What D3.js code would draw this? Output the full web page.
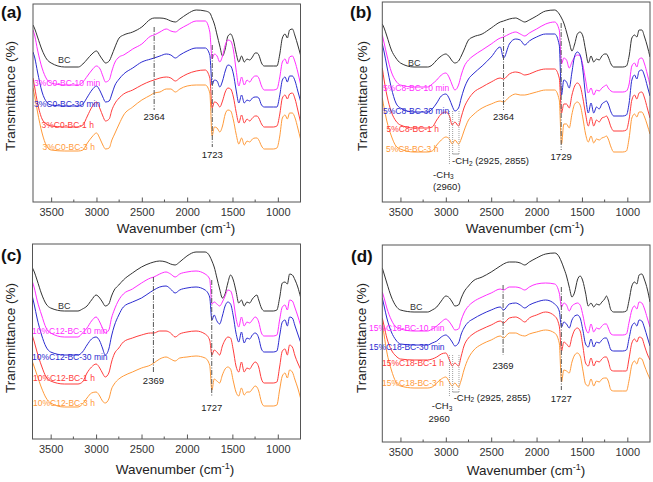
<!DOCTYPE html>
<html><head><meta charset="utf-8">
<script src="https://cdn.jsdelivr.net/npm/d3@7"></script>
<style>
body{margin:0;background:#fff}
text{font-family:"Liberation Sans",Arial,Helvetica,sans-serif}
</style>
</head><body>
<svg id="chart" width="653" height="482"></svg>
<script>
// ---------- data ----------
const wavenumbers = [3700,3680,3650,3600,3550,3500,3350,3200,3150,3100,3050,3000,2960,2930,2900,2860,2830,2800,2750,2700,2600,2500,2400,2364,2300,2230,2180,2130,2080,2000,1900,1800,1750,1725,1700,1670,1640,1610,1580,1550,1520,1490,1460,1430,1400,1370,1340,1310,1280,1250,1230,1210,1180,1150,1050,1010,980,950,920,895,870,840,810,780,750];
const tickValues = [3500,3000,2500,2000,1500,1000];
const minorTickValues = [3250,2750,2250,1750,1250];

// transmittance (arbitrary units, offset spectra)
const a_BC    = [177,173,165,152,143,139,135,135,138,143,148,151,146,142,139,141,147,154,164,167,170,175,183,184,184,183,181,180,183,188,192,191,189,184,178,167,156,146,153,166,168,162,149,140,146,140,143,142,145,149,149,147,139,136,136,136,147,164,168,164,172,173,166,157,147];
const a_10min = [172,166,152,134,123,119,117,117,120,126,132,136,133,126,120,122,131,139,145,147,153,158,166,167,170,173,171,170,173,177,181,181,170,143,148,146,140,146,157,162,161,152,132,116,125,117,122,120,124,126,126,124,116,112,112,113,124,140,143,138,145,146,140,130,118];
const a_30min = [150,144,130,110,100,97,96,96,98,105,112,116,111,105,100,101,108,116,123,128,134,140,143,144,146,148,147,144,147,151,154,154,147,117,122,121,115,121,131,137,136,128,112,99,107,99,102,101,104,105,105,104,97,95,95,95,106,122,125,120,126,126,121,111,101];
const a_1h    = [124,114,99,83,78,76,75,75,77,86,95,100,93,86,81,83,92,98,104,108,112,117,121,122,124,125,124,121,124,128,131,132,124,94,100,99,95,101,110,114,113,105,90,79,87,79,83,81,84,86,86,84,78,75,75,76,87,104,107,103,108,109,103,92,80];
const a_3h    = [114,105,90,69,56,52,51,51,52,59,65,69,63,57,53,54,62,68,78,87,95,102,107,109,110,113,113,110,113,116,117,117,109,66,75,74,70,76,88,92,91,82,68,58,64,57,61,60,63,64,64,62,56,53,53,54,65,84,87,83,89,89,84,74,63];

const b_BC    = [178,174,166,152,144,139,135,135,137,142,146,148,145,141,139,141,146,152,162,165,168,174,180,181,183,184,182,180,182,186,191,192,188,184,179,170,160,151,158,168,170,166,152,139,146,140,143,142,146,148,148,145,138,135,135,136,146,164,167,165,172,172,165,156,145];
const b_10min = [167,159,147,130,121,117,115,115,118,122,127,129,124,117,112,117,127,135,142,146,152,158,164,165,168,170,168,166,169,173,178,180,172,138,144,142,134,140,145,147,146,137,122,109,114,107,112,111,114,116,117,114,111,110,110,111,118,136,139,135,143,144,138,128,117];
const b_30min = [158,150,136,114,99,94,90,90,93,99,106,108,103,96,91,94,104,113,123,128,136,145,155,144,158,163,162,157,161,165,168,168,157,107,122,120,114,130,146,150,147,132,106,89,99,89,95,93,98,100,101,98,90,86,86,87,99,122,127,123,131,132,126,116,106];
const b_1h    = [134,122,107,90,81,77,74,74,75,82,88,90,86,77,80,76,85,94,103,109,115,120,124,123,128,130,129,127,128,131,133,133,124,89,98,98,94,107,116,119,116,104,88,76,85,76,82,80,84,85,86,83,75,71,71,72,83,102,107,103,109,110,104,94,84];
const b_3h    = [104,94,81,66,56,53,50,50,51,57,62,65,63,58,62,58,63,71,82,87,94,98,101,100,105,108,107,107,108,110,112,112,102,58,78,78,74,88,98,100,97,84,68,60,66,59,63,62,64,65,66,63,55,50,50,51,64,84,88,85,90,90,85,77,68];

const c_BC    = [171,167,159,145,135,131,128,128,130,133,139,144,141,137,133,135,143,149,154,159,166,172,176,177,178,177,175,174,177,183,187,187,183,178,172,161,150,141,145,156,164,159,148,136,139,133,137,136,140,143,144,139,131,128,128,129,141,156,157,155,165,164,159,152,142];
const c_10min = [157,151,139,124,111,106,102,102,106,111,118,122,117,111,106,109,121,129,139,145,150,156,161,162,165,167,165,162,165,167,168,165,160,135,137,135,133,137,143,149,148,139,121,112,122,113,117,116,119,122,121,117,106,103,103,104,119,132,134,129,139,138,131,123,114];
const c_30min = [142,134,121,104,92,87,84,84,87,94,100,102,98,91,84,90,103,113,124,132,137,141,147,149,152,153,150,146,149,151,152,149,142,119,124,118,115,123,133,137,135,123,106,97,107,96,101,100,104,106,105,101,90,87,87,88,103,117,119,113,122,121,113,105,97];
const c_1h    = [103,97,87,73,62,58,55,55,57,66,72,75,71,66,62,66,77,85,91,97,101,104,106,106,108,108,106,102,105,107,108,105,99,84,89,87,84,93,99,102,101,89,73,67,77,67,71,70,74,77,76,72,60,56,56,57,72,88,90,84,94,92,83,76,70];
const c_3h    = [77,72,64,51,41,36,32,32,35,41,46,47,43,38,36,40,50,55,60,63,67,71,74,76,80,82,80,78,81,82,83,81,74,49,60,58,56,64,70,72,70,58,47,43,51,44,47,47,50,53,52,48,37,33,33,34,49,63,66,61,69,67,59,51,41];

const d_BC    = [174,168,159,145,136,132,130,130,132,135,141,146,144,140,136,137,144,150,156,161,165,170,176,178,180,180,179,177,180,184,188,189,185,180,174,166,155,145,150,162,166,161,149,136,139,135,138,137,140,143,146,142,132,130,130,131,142,156,160,158,167,168,162,153,140];
const d_10min = [150,144,134,122,115,113,111,111,113,116,120,123,120,116,112,113,122,129,136,140,145,149,153,152,155,155,154,152,155,158,159,158,149,135,139,137,131,136,138,139,137,127,114,109,118,110,114,113,116,118,118,114,108,107,107,108,120,132,136,133,140,139,133,124,115];
const d_30min = [144,136,124,110,102,98,97,97,99,101,105,107,104,100,96,99,108,114,120,123,128,132,135,132,138,139,137,134,137,140,142,138,131,115,120,118,114,122,126,127,124,112,98,95,103,95,100,99,102,104,104,100,92,91,91,92,104,116,119,116,122,121,114,105,96];
const d_1h    = [124,116,104,92,86,83,82,82,83,85,88,89,82,76,79,76,86,96,104,108,113,117,121,119,124,125,123,120,124,127,130,126,116,91,100,98,95,105,112,114,111,96,79,76,84,76,81,80,83,85,85,81,72,71,71,71,84,99,103,100,105,104,96,88,82];
const d_3h    = [119,107,90,72,60,56,54,54,55,59,63,65,60,56,59,55,62,72,84,91,98,102,106,104,109,109,107,106,108,110,112,109,99,60,72,71,69,80,87,89,86,72,58,56,63,56,61,60,63,64,64,61,52,51,51,51,62,77,81,78,84,83,76,69,63];

const a_names = ["BC","3%C0-BC-10 min","3%C0-BC-30 min","3%C0-BC-1 h","3%C0-BC-3 h"];
const b_names = ["BC","5%C8-BC-10 min","5%C8-BC-30 min","5%C8-BC-1 h","5%C8-BC-3 h"];
const c_names = ["BC","10%C12-BC-10 min","10%C12-BC-30 min","10%C12-BC-1 h","10%C12-BC-3 h"];
const d_names = ["BC","15%C18-BC-10 min","15%C18-BC-30 min","15%C18-BC-1 h","15%C18-BC-3 h"];

const a_peaks = [2364, 1723];
const b_peaks = [2364, 1729];
const c_peaks = [2369, 1727];
const d_peaks = [2369, 1727];

// ---------- layout / style ----------
const colors = ["#333333","#ff2eff","#2b2bd0","#ff3c3c","#ff9a3a"];
const panels = [
  {letter:"(a)", series:[a_BC,a_10min,a_30min,a_1h,a_3h], names:a_names, peaks:a_peaks,
   l:33, t:4, r:300.5, b:202, lp:[1,18], yt:[10,96], xt:[176,228],
   labels:[[58,63],[34,85.5],[34,106.5],[41.5,127.5],[42.5,150]],
   marks:[[175,92,85],[157,55,47]], ch:null},
  {letter:"(b)", series:[b_BC,b_10min,b_30min,b_1h,b_3h], names:b_names, peaks:b_peaks,
   l:382.3, t:2, r:650, b:202, lp:[350,18], yt:[362,96], xt:[525,228],
   labels:[[408,65.5],[383,91],[383,114],[386.5,132],[386,151.5]],
   marks:[[174,92,85],[179,52,45]],
   ch:{w3:2960, w2:[2925,2855], top:91, b3:37, b2:48, t2:[2932,41], t3:[3140,27.5], t4:[3140,15], t4s:"(2960)"}},
  {letter:"(c)", series:[c_BC,c_10min,c_30min,c_1h,c_3h], names:c_names, peaks:c_peaks,
   l:32.5, t:244, r:300.5, b:439, lp:[1,261], yt:[10,338], xt:[175,469],
   labels:[[58,309],[32,333.5],[32,360],[33,380.5],[33,405.5]],
   marks:[[162,66,58],[159,42,31]], ch:null},
  {letter:"(d)", series:[d_BC,d_10min,d_30min,d_1h,d_3h], names:d_names, peaks:d_peaks,
   l:382.3, t:245, r:650, b:442, lp:[351,262], yt:[361,338], xt:[526,470],
   labels:[[410,310],[369,330.5],[369,350],[382,366],[382,386]],
   marks:[[157,87,76],[155,52,43]],
   ch:{w3:2960, w2:[2925,2855], top:87, b3:45, b2:50, t2:[2914,44.7], t3:[3154,36], t4:[3190,23], t4s:"2960"}}
];

const svg = d3.select("#chart");

panels.forEach((p, pi) => {
  const x = d3.scaleLinear().domain([3700, 750]).range([p.l, p.r]);
  const y = d3.scaleLinear().domain([0, p.b - p.t]).range([p.b, p.t]);
  const g = svg.append("g");
  const cid = "clip" + pi;
  svg.append("defs").append("clipPath").attr("id", cid)
     .append("rect").attr("x", p.l).attr("y", p.t).attr("width", p.r - p.l).attr("height", p.b - p.t);

  const line = d3.line().x(d => x(d[0])).y(d => y(d[1])).curve(d3.curveMonotoneX);
  const cg = g.append("g").attr("clip-path", `url(#${cid})`);
  p.series.forEach((s, i) => {
    cg.append("path").datum(wavenumbers.map((w, k) => [w, s[k]]))
      .attr("d", line).attr("fill", "none").attr("stroke", colors[i]).attr("stroke-width", 1);
  });

  // peak marker lines
  p.peaks.forEach((w, k) => {
    const m = p.marks[k];
    g.append("line").attr("x1", x(w)).attr("x2", x(w)).attr("y1", y(m[0])).attr("y2", y(m[1]))
      .attr("stroke", "#555").attr("stroke-width", 1).attr("stroke-dasharray", "5,1.5,1,1.5");
    g.append("text").attr("x", x(w)).attr("y", y(m[2])).attr("dy", "0.35em")
      .attr("text-anchor", "middle").attr("font-size", 9.5).attr("fill", "#222").text(w);
  });

  // CH3 / CH2 markers
  if (p.ch) {
    const c = p.ch;
    const dl = (w, v0, v1) => g.append("line").attr("x1", x(w)).attr("x2", x(w)).attr("y1", y(v0)).attr("y2", y(v1))
      .attr("stroke", "#888").attr("stroke-width", 0.8).attr("stroke-dasharray", "1,1");
    dl(c.w3, c.top, c.b3);
    c.w2.forEach(w => dl(w, c.top, c.b2));
    g.append("line").attr("x1", x(c.w2[0])).attr("x2", x(c.w2[1])).attr("y1", y(c.b2)).attr("y2", y(c.b2))
      .attr("stroke", "#888").attr("stroke-width", 0.8);
    const t2 = g.append("text").attr("x", x(c.t2[0])).attr("y", y(c.t2[1])).attr("dy", "0.35em")
      .attr("font-size", 9.5).attr("fill", "#222");
    t2.append("tspan").text("-CH");
    t2.append("tspan").attr("font-size", 6.5).attr("dy", 1.5).text("2");
    t2.append("tspan").attr("dy", -1.5).text(" (2925, 2855)");
    const t3 = g.append("text").attr("x", x(c.t3[0])).attr("y", y(c.t3[1])).attr("dy", "0.35em")
      .attr("font-size", 9.5).attr("fill", "#222");
    t3.append("tspan").text("-CH");
    t3.append("tspan").attr("font-size", 6.5).attr("dy", 1.5).text("3");
    g.append("text").attr("x", x(c.t4[0])).attr("y", y(c.t4[1])).attr("dy", "0.35em")
      .attr("font-size", 9.5).attr("fill", "#222").text(c.t4s);
  }

  // series labels
  p.names.forEach((n, i) => {
    g.append("text").attr("x", p.labels[i][0]).attr("y", p.labels[i][1])
      .attr("font-size", i === 0 ? 9 : 8.5).attr("fill", colors[i]).text(n);
  });

  // frame
  g.append("rect").attr("x", p.l).attr("y", p.t).attr("width", p.r - p.l).attr("height", p.b - p.t)
    .attr("fill", "none").attr("stroke", "#555").attr("stroke-width", 1);

  // x axis
  const ax = d3.axisBottom(x).tickValues(tickValues).tickSizeInner(-4.5).tickSizeOuter(0)
    .tickPadding(6).tickFormat(d3.format("d"));
  const axg = g.append("g").attr("transform", `translate(0,${p.b})`).call(ax);
  axg.select(".domain").remove();
  axg.selectAll(".tick line").attr("stroke", "#555");
  axg.selectAll(".tick text").attr("font-size", 11).attr("fill", "#333")
    .attr("font-family", '"Liberation Sans",Arial,sans-serif');
  minorTickValues.forEach(w => {
    g.append("line").attr("x1", x(w)).attr("x2", x(w)).attr("y1", p.b).attr("y2", p.b - 2.5)
      .attr("stroke", "#555").attr("stroke-width", 1);
  });

  // titles
  const xt = g.append("text").attr("x", p.xt[0]).attr("y", p.xt[1]).attr("dy", "0.35em")
    .attr("text-anchor", "middle").attr("font-size", 13.5).attr("fill", "#222");
  xt.append("tspan").text("Wavenumber (cm");
  xt.append("tspan").attr("font-size", 9).attr("dy", -5).text("-1");
  xt.append("tspan").attr("dy", 5).text(")");
  g.append("text").attr("transform", `translate(${p.yt[0]},${p.yt[1]}) rotate(-90)`)
    .attr("dy", "0.35em").attr("text-anchor", "middle").attr("font-size", 13.5).attr("fill", "#222")
    .text("Transmittance (%)");
  g.append("text").attr("x", p.lp[0]).attr("y", p.lp[1]).attr("font-size", 17)
    .attr("font-weight", "bold").attr("fill", "#111").text(p.letter);
});
</script>
</body></html>
